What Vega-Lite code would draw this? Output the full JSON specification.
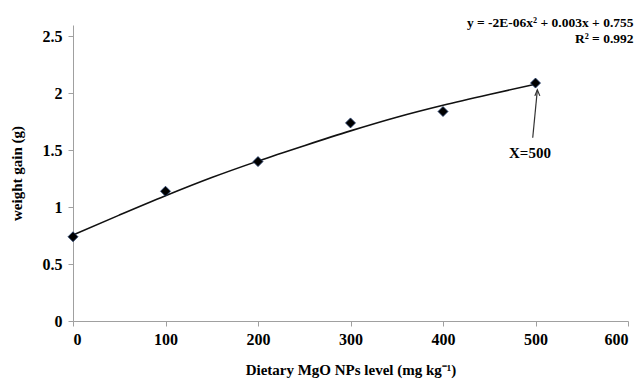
{
  "$schema": "https://vega.github.io/schema/vega-lite/v6.json",
  "width": 555,
  "height": 296,
  "autosize": {"type": "none"},
  "padding": {"left": 73, "top": 25, "right": 16, "bottom": 60},
  "background": "white",
  "config": {
    "view": {"stroke": null},
    "font": "Liberation Serif",
    "axis": {
      "grid": false,
      "domainColor": "#a0a0a0",
      "tickColor": "#a0a0a0",
      "tickSize": 5,
      "labelFont": "Liberation Serif",
      "labelFontSize": 16,
      "labelFontWeight": "bold",
      "labelColor": "#000",
      "titleFont": "Liberation Serif",
      "titleFontSize": 15,
      "titleFontWeight": "bold",
      "titleColor": "#000"
    }
  },
  "datasets": {
    "pts": [
      {"x": 0, "y": 0.74},
      {"x": 100, "y": 1.14},
      {"x": 200, "y": 1.40},
      {"x": 300, "y": 1.74},
      {"x": 400, "y": 1.84},
      {"x": 500, "y": 2.09}
    ],
    "curve": [
      {"x": 0, "y": 0.755},
      {"x": 50, "y": 0.93},
      {"x": 100, "y": 1.10},
      {"x": 150, "y": 1.26},
      {"x": 200, "y": 1.405},
      {"x": 250, "y": 1.54},
      {"x": 300, "y": 1.67},
      {"x": 350, "y": 1.79},
      {"x": 400, "y": 1.895},
      {"x": 450, "y": 1.99},
      {"x": 500, "y": 2.08}
    ],
    "arrow": [
      {"x": 497, "y": 1.61, "x2": 502, "y2": 2.03}
    ],
    "head": [
      {"x": 502, "y": 2.03}
    ],
    "labels": [
      {"x": 494, "y": 1.48, "t": "X=500"}
    ],
    "eq": [
      {"x": 606, "y": 2.62, "t": "y = -2E-06x² + 0.003x + 0.755"},
      {"x": 606, "y": 2.475, "t": "R² = 0.992"}
    ]
  },
  "layer": [
    {
      "data": {"name": "curve"},
      "mark": {"type": "line", "color": "#111", "strokeWidth": 1.6, "interpolate": "monotone"},
      "encoding": {
        "x": {"field": "x", "type": "quantitative", "scale": {"domain": [0, 600]},
          "axis": {"values": [0, 100, 200, 300, 400, 500, 600], "labelPadding": 5, "title": "Dietary MgO NPs  level (mg kg⁻¹)", "titlePadding": 15}},
        "y": {"field": "y", "type": "quantitative", "scale": {"domain": [0, 2.5]},
          "axis": {"values": [0, 0.5, 1, 1.5, 2, 2.5], "format": "~g", "labelPadding": 6, "title": "weight gain (g)", "titlePadding": 18}}
      }
    },
    {
      "data": {"name": "pts"},
      "mark": {"type": "point", "shape": "diamond", "filled": true, "color": "#000", "size": 100, "stroke": "#1f3a6b", "strokeWidth": 0.8, "opacity": 1},
      "encoding": {
        "x": {"field": "x", "type": "quantitative"},
        "y": {"field": "y", "type": "quantitative"}
      }
    },
    {
      "data": {"name": "arrow"},
      "mark": {"type": "rule", "color": "#333", "strokeWidth": 1.2},
      "encoding": {
        "x": {"field": "x", "type": "quantitative"},
        "y": {"field": "y", "type": "quantitative"},
        "x2": {"field": "x2"},
        "y2": {"field": "y2"}
      }
    },
    {
      "data": {"name": "head"},
      "mark": {"type": "point", "shape": "M -0.5 1.2 L 0 0 L 0.5 1.2", "filled": false, "color": "#333", "strokeWidth": 1.2, "size": 100, "opacity": 1},
      "encoding": {
        "x": {"field": "x", "type": "quantitative"},
        "y": {"field": "y", "type": "quantitative"}
      }
    },
    {
      "data": {"name": "labels"},
      "mark": {"type": "text", "font": "Liberation Serif", "fontSize": 15, "fontWeight": "bold", "color": "#000", "align": "center", "baseline": "middle"},
      "encoding": {
        "x": {"field": "x", "type": "quantitative"},
        "y": {"field": "y", "type": "quantitative"},
        "text": {"field": "t"}
      }
    },
    {
      "data": {"name": "eq"},
      "mark": {"type": "text", "font": "Liberation Serif", "fontSize": 13.5, "fontWeight": "bold", "color": "#000", "align": "right", "baseline": "middle", "clip": false},
      "encoding": {
        "x": {"field": "x", "type": "quantitative"},
        "y": {"field": "y", "type": "quantitative"},
        "text": {"field": "t"}
      }
    }
  ]
}
